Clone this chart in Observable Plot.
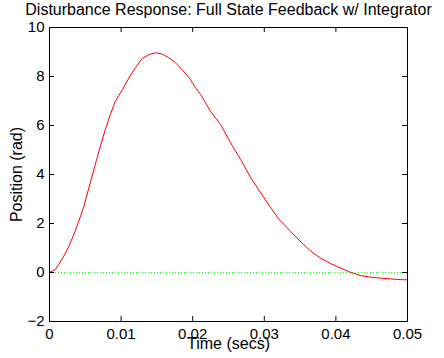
<!DOCTYPE html>
<html>
<head>
<meta charset="utf-8">
<script src="https://cdn.jsdelivr.net/npm/d3@7"></script>
<script src="https://cdn.jsdelivr.net/npm/@observablehq/plot@0.6"></script>
<style>
  html, body { margin: 0; padding: 0; background: #fff; }
  #chart svg { display: block; }
</style>
</head>
<body>
<div id="chart"></div>
<script>
const title = "Disturbance Response: Full State Feedback w/ Integrator";
const xLabel = "Time (secs)";
const yLabel = "Position (rad)";

const time = [0, 0.0008, 0.0013, 0.0020, 0.0027, 0.0034, 0.0041, 0.0048, 0.0055, 0.0062,
  0.0069, 0.0078, 0.0085, 0.0092, 0.0102, 0.0111, 0.0120, 0.0129, 0.0139, 0.0148,
  0.0157, 0.0167, 0.0176, 0.0185, 0.0195, 0.0204, 0.0211, 0.0225, 0.0239, 0.0253,
  0.0267, 0.0281, 0.0295, 0.0309, 0.0320, 0.0337, 0.0351, 0.0365, 0.0378, 0.0392,
  0.0406, 0.0420, 0.0434, 0.0448, 0.0462, 0.0476, 0.0490, 0.0500];
const position = [0, 0.12, 0.33, 0.67, 1.07, 1.55, 2.1, 2.7, 3.46, 4.2,
  4.95, 5.84, 6.45, 6.99, 7.47, 7.95, 8.36, 8.72, 8.90, 8.97,
  8.92, 8.76, 8.56, 8.29, 7.95, 7.54, 7.27, 6.58, 6.04, 5.29,
  4.61, 3.87, 3.25, 2.64, 2.19, 1.67, 1.25, 0.87, 0.60, 0.37,
  0.19, 0.01, -0.12, -0.19, -0.23, -0.26, -0.29, -0.30];

const xTicks = [0, 0.01, 0.02, 0.03, 0.04, 0.05];
const xTickLabels = ["0", "0.01", "0.02", "0.03", "0.04", "0.05"];
const yTicks = [-2, 0, 2, 4, 6, 8, 10];
const yTickLabels = ["\u22122", "0", "2", "4", "6", "8", "10"];
const zeroLine = [0];

const data = time.map((t, i) => ({t, p: position[i]}));

const W = 444, H = 358;
const mL = 49, mR = 37, mT = 27, mB = 37;
const plotW = W - mL - mR, plotH = H - mT - mB;
const tick = 5;

const chart = Plot.plot({
  width: W,
  height: H,
  marginLeft: mL,
  marginRight: mR,
  marginTop: mT,
  marginBottom: mB,
  style: {fontFamily: "'Liberation Sans', Arial, Helvetica, sans-serif", fontSize: "15px", color: "#000", background: "#fff", overflow: "visible"},
  x: {domain: [0, 0.05]},
  y: {domain: [-2, 10]},
  marks: [
    Plot.ruleY(zeroLine, {y: d => d, stroke: "#00ff00", strokeDasharray: "1,2", strokeWidth: 1}),
    Plot.line(data, {x: "t", y: "p", stroke: "#ff0000", strokeWidth: 1}),
    Plot.frame({stroke: "#000", strokeWidth: 1}),
    // inward ticks on all four sides
    Plot.tickX(xTicks, {x: d => d, insetTop: plotH - tick, stroke: "#000"}),
    Plot.tickX(xTicks, {x: d => d, insetBottom: plotH - tick, stroke: "#000"}),
    Plot.tickY(yTicks, {y: d => d, insetRight: plotW - tick, stroke: "#000"}),
    Plot.tickY(yTicks, {y: d => d, insetLeft: plotW - tick, stroke: "#000"}),
    Plot.axisX({ticks: xTicks, tickSize: 0, tickPadding: 7, tickFormat: (d) => xTickLabels[xTicks.indexOf(d)], label: null, fontSize: 15}),
    Plot.axisY({ticks: yTicks, tickSize: 0, tickPadding: 5, tickFormat: (d) => yTickLabels[yTicks.indexOf(d)], label: null, fontSize: 15}),
    Plot.text([title], {text: d => d, frameAnchor: "top", textAnchor: "middle", lineAnchor: "bottom", dy: -13, fontSize: 16, fill: "#000"}),
    Plot.text([xLabel], {text: d => d, frameAnchor: "bottom", textAnchor: "middle", lineAnchor: "bottom", dy: 27, fontSize: 16, fill: "#000"}),
    Plot.text([yLabel], {text: d => d, frameAnchor: "left", textAnchor: "middle", lineAnchor: "middle", rotate: -90, dx: -33, fontSize: 16, fill: "#000"})
  ]
});
document.getElementById("chart").appendChild(chart);
</script>
</body>
</html>
